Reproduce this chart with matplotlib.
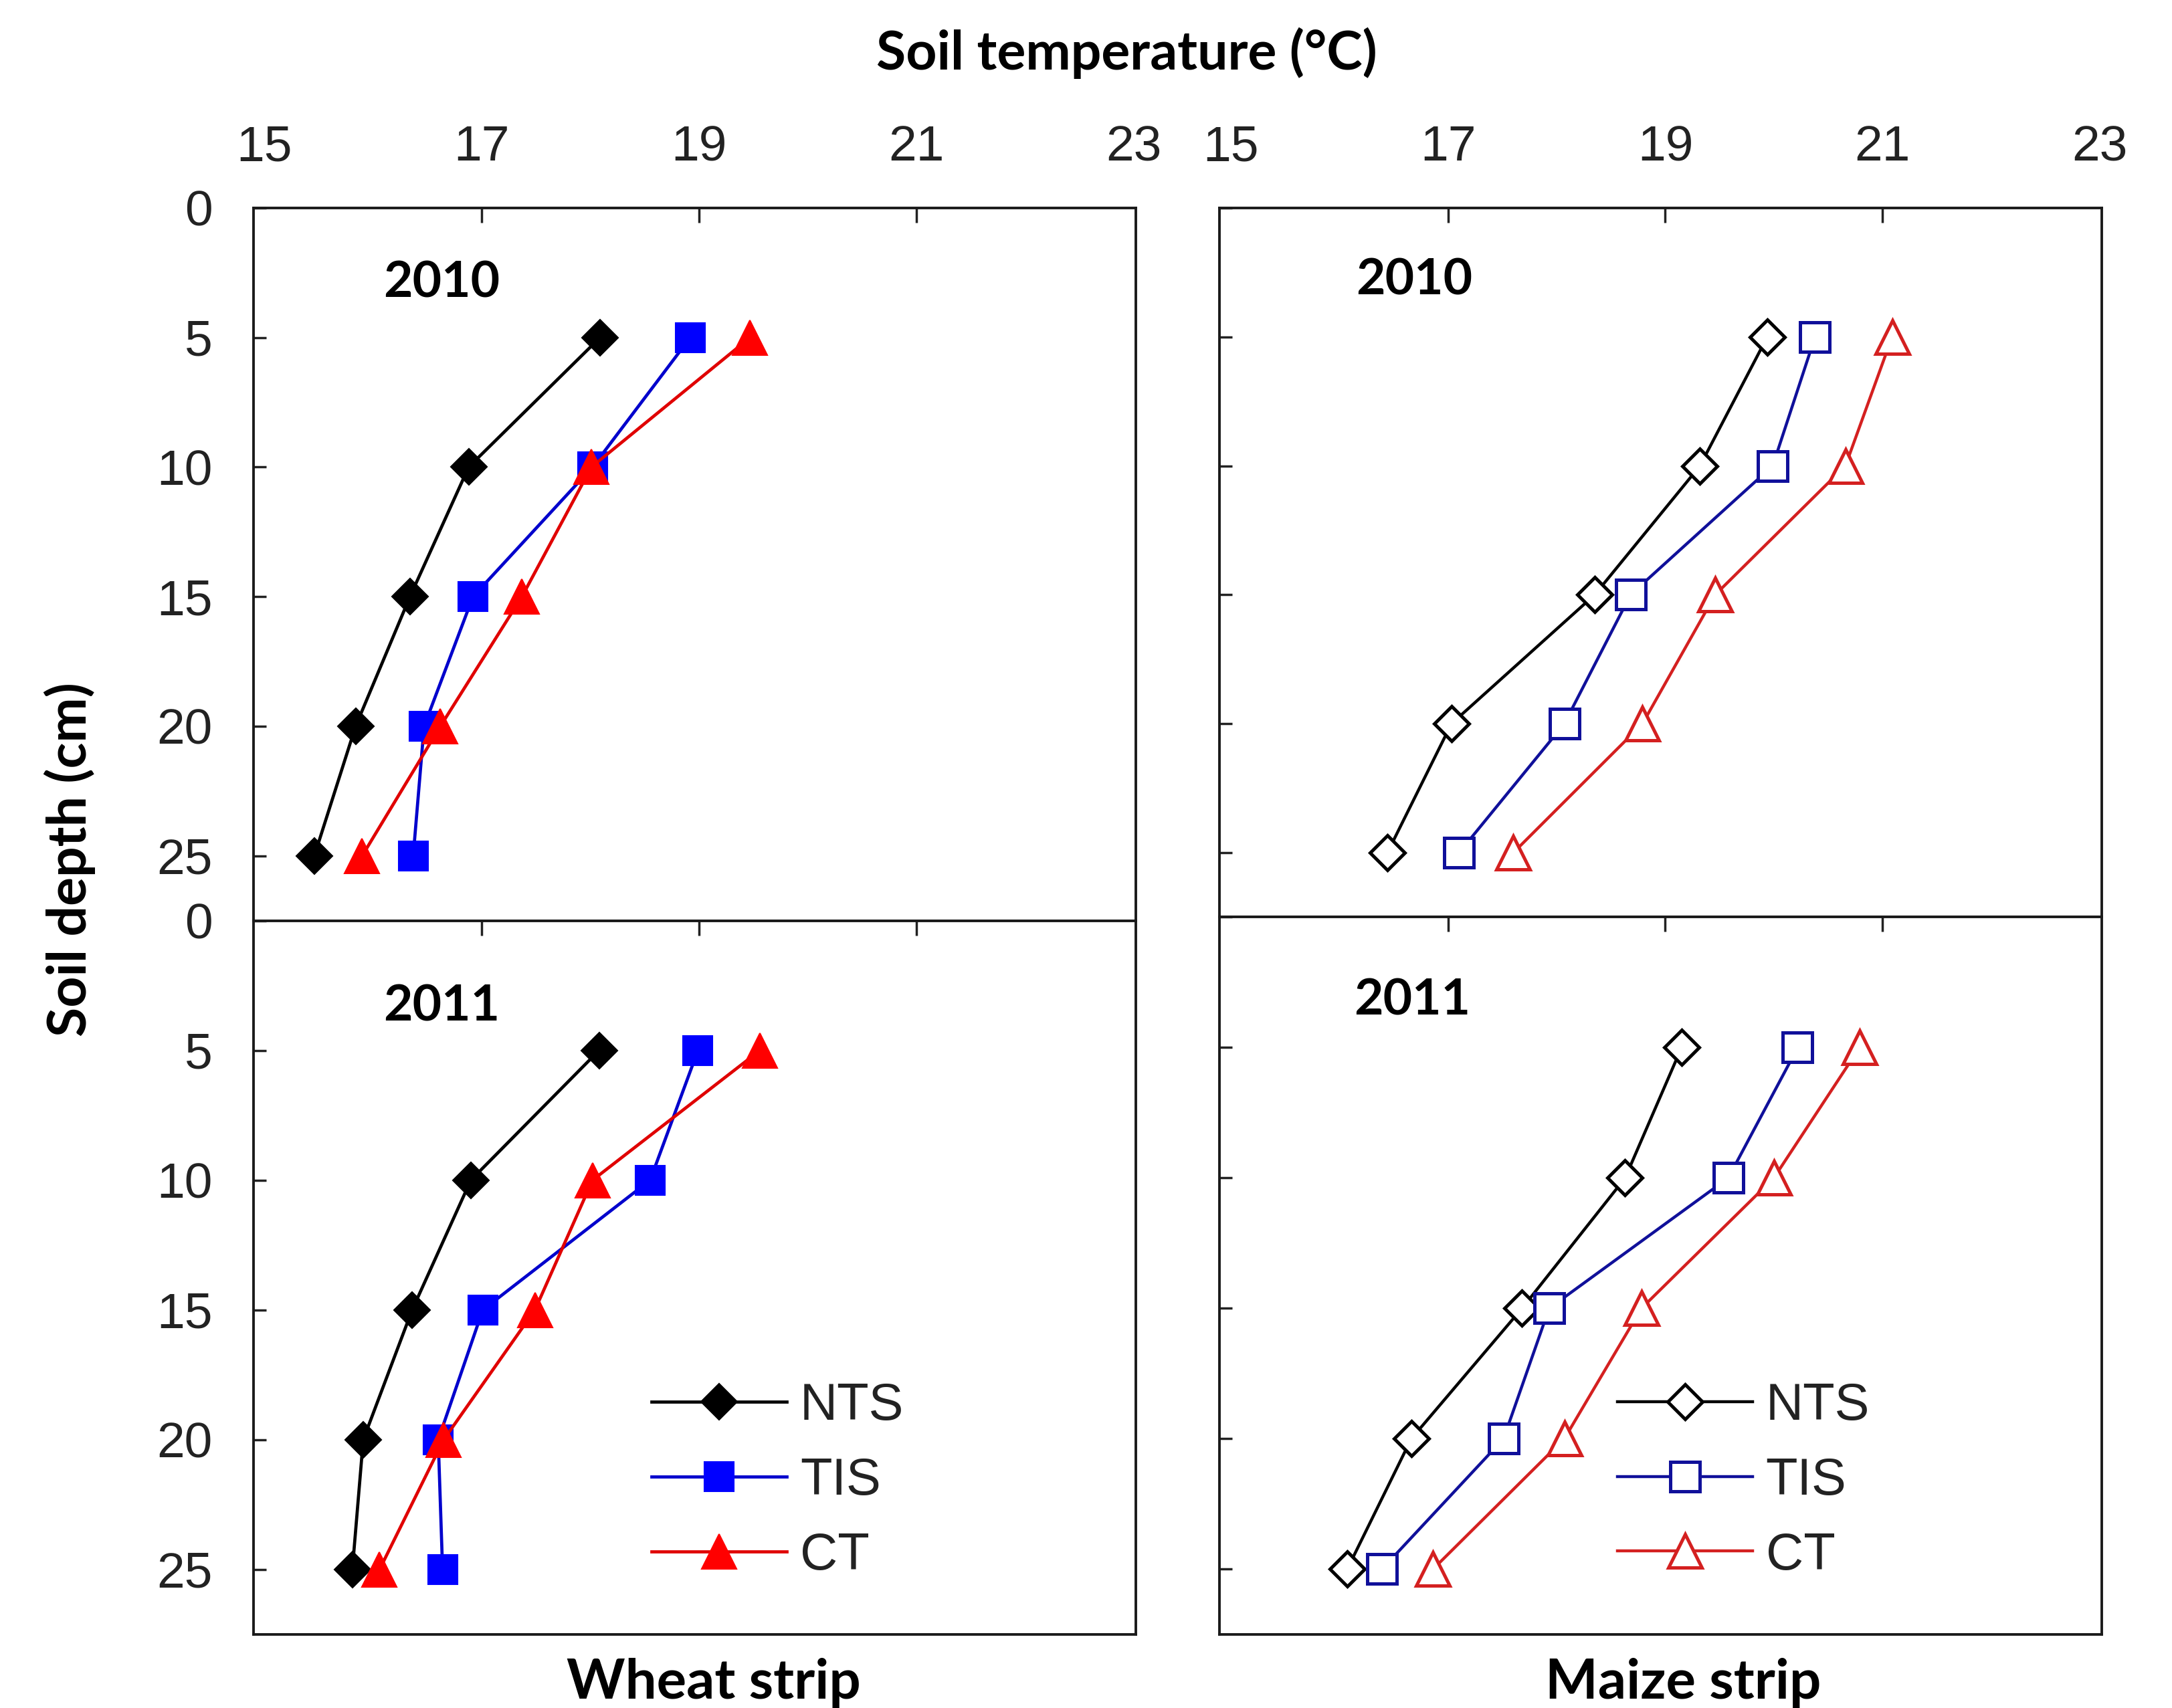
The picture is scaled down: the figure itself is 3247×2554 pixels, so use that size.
import numpy as np
import matplotlib
matplotlib.use("Agg")
import matplotlib.pyplot as plt

# soil depth (cm)
depth = [5, 10, 15, 20, 25]
treatments = ["NTS", "TIS", "CT"]

# soil temperature (deg C)
wheat_2010 = {
    "NTS": [18.09, 16.88, 16.34, 15.84, 15.46],
    "TIS": [18.92, 18.02, 16.92, 16.47, 16.37],
    "CT": [19.47, 18.01, 17.37, 16.62, 15.90],
}
wheat_2011 = {
    "NTS": [18.08, 16.90, 16.36, 15.91, 15.81],
    "TIS": [18.99, 18.55, 17.01, 16.60, 16.64],
    "CT": [19.56, 18.02, 17.49, 16.65, 16.06],
}
maize_2010 = {
    "NTS": [19.94, 19.32, 18.35, 17.03, 16.44],
    "TIS": [20.38, 19.99, 18.68, 18.07, 17.10],
    "CT": [21.09, 20.66, 19.46, 18.79, 17.60],
}
maize_2011 = {
    "NTS": [19.15, 18.63, 17.68, 16.66, 16.07],
    "TIS": [20.22, 19.58, 17.93, 17.51, 16.39],
    "CT": [20.79, 20.00, 18.78, 18.07, 16.86],
}

x_ticks = [15, 17, 19, 21, 23]
y_ticks = [0, 5, 10, 15, 20, 25]

tick_font = ["Liberation Sans Narrow", "Liberation Sans", "DejaVu Sans"]
bold_font = ["Lato", "DejaVu Sans"]

markers = {"NTS": "D", "TIS": "s", "CT": "^"}
msize = {"NTS": 27, "TIS": 31, "CT": 37}
msize_open = {"NTS": 26, "TIS": 31, "CT": 36}
wheat_col = {"NTS": "black", "TIS": "#0000ff", "CT": "#ff0000"}
wheat_line = {"NTS": "black", "TIS": "#0000cc", "CT": "#e00000"}
maize_col = {"NTS": "black", "TIS": "#10109a", "CT": "#d42020"}

fig = plt.figure(figsize=(32.47, 25.54), dpi=100)

L1, R1 = 0.1167, 0.5230
L2, R2 = 0.5613, 0.9676
TOP, MID, BOT = 0.8783, 0.4610, 0.0431

ax_wt = fig.add_axes([L1, MID, R1 - L1, TOP - MID])
ax_wb = fig.add_axes([L1, BOT, R1 - L1, MID - BOT])
ax_mt = fig.add_axes([L2, MID + 0.002, R2 - L2, TOP - MID - 0.002])
ax_mb = fig.add_axes([L2, BOT, R2 - L2, MID - BOT + 0.002])


def draw(ax, data, filled):
    for t in treatments:
        if filled:
            ax.plot(data[t], depth, color=wheat_line[t], lw=3.4,
                    marker=markers[t], ms=msize[t], mfc=wheat_col[t],
                    mec=wheat_col[t], mew=1.5, label=t)
        else:
            ax.plot(data[t], depth, color=maize_col[t], lw=3.2,
                    marker=markers[t], ms=msize_open[t], mfc="white",
                    mec=maize_col[t], mew=3.6, label=t)


def style(ax, xlab_top, ylab_left, xmin):
    ax.set_xlim(xmin, 23.02)
    ax.set_ylim(27.5, 0)
    ax.set_xticks([17, 19, 21])
    ax.set_yticks(y_ticks)
    ax.tick_params(axis="x", which="both", direction="in", length=16, width=2.5,
                   top=True, bottom=False, labeltop=False, labelbottom=False,
                   color="#222222")
    ax.tick_params(axis="y", direction="in", length=14, width=2.5,
                   left=True, right=False, labelleft=ylab_left, pad=44,
                   labelsize=54, labelcolor="#222222", color="#222222")
    for lab in ax.get_yticklabels():
        lab.set_family(tick_font)
    for s in ax.spines.values():
        s.set_linewidth(2.8)
        s.set_color("#1a1a1a")
    if xlab_top:
        sec = ax.secondary_xaxis("top")
        sec.set_xticks(x_ticks)
        sec.tick_params(axis="x", length=0, pad=40, labelsize=54,
                        labelcolor="#222222")
        sec.spines["top"].set_visible(False)
        for lab in sec.get_xticklabels():
            lab.set_family(tick_font)


style(ax_wt, True, True, 14.90)
style(ax_wb, False, True, 14.90)
style(ax_mt, True, False, 14.89)
style(ax_mb, False, False, 14.89)

draw(ax_wt, wheat_2010, True)
draw(ax_wb, wheat_2011, True)
draw(ax_mt, maize_2010, False)
draw(ax_mb, maize_2011, False)

# year labels
ax_wt.text(16.63, 2.9, "2010", family=bold_font, fontweight="bold",
           fontsize=54, ha="center", va="center")
ax_wb.text(16.63, 3.3, "2011", family=bold_font, fontweight="bold",
           fontsize=54, ha="center", va="center")
ax_mt.text(16.69, 2.8, "2010", family=bold_font, fontweight="bold",
           fontsize=54, ha="center", va="center")
ax_mb.text(16.67, 3.2, "2011", family=bold_font, fontweight="bold",
           fontsize=54, ha="center", va="center")

for ax in (ax_wb, ax_mb):
    leg = ax.legend(loc="lower left", bbox_to_anchor=(0.41, 0.025),
                    frameon=False, handlelength=2.6,
                    handletextpad=0.25, labelspacing=0.5, borderpad=0.2,
                    prop={"family": tick_font, "size": 56})
    for txt in leg.get_texts():
        txt.set_color("#222222")

fig.text(0.5186, 0.969, "Soil temperature (°C)", family=bold_font,
         fontweight="bold", fontsize=58, ha="center", va="center")
fig.text(0.032, 0.497, "Soil depth (cm)", family=bold_font,
         fontweight="bold", fontsize=58, ha="center", va="center",
         rotation=90)
fig.text(0.3285, 0.0148, "Wheat strip", family=bold_font,
         fontweight="bold", fontsize=60, ha="center", va="center")
fig.text(0.775, 0.0148, "Maize strip", family=bold_font,
         fontweight="bold", fontsize=60, ha="center", va="center")

fig.savefig("out.png", dpi=100, facecolor="white")
